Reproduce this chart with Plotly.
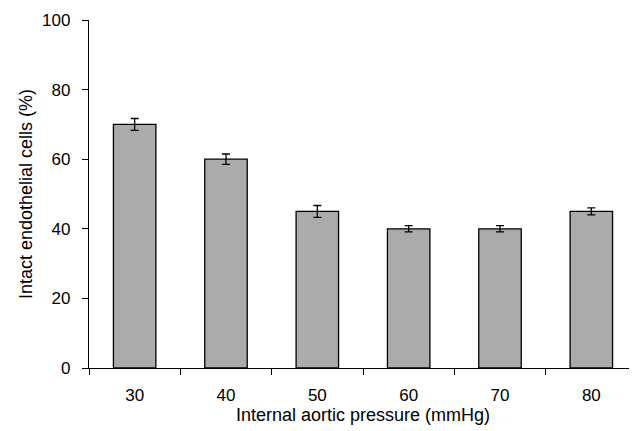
import plotly.graph_objects as go

categories = ["30", "40", "50", "60", "70", "80"]
values = [70, 60, 45, 40, 40, 45]
errors = [1.7, 1.5, 1.7, 0.9, 0.9, 1.0]
y_ticks = [0, 20, 40, 60, 80, 100]

fig = go.Figure(go.Bar(
    x=categories, y=values,
    marker=dict(color="#ababab", line=dict(color="black", width=1.3)),
    width=0.465,
    error_y=dict(type="data", array=errors, color="black", thickness=1.3, width=4),
))

# page body has an 8px default margin; margins compensate so the plot area
# lands where the reference has it
fig.update_layout(
    width=637, height=431,
    margin=dict(l=81, r=8, t=12, b=71, autoexpand=False),
    paper_bgcolor="white", plot_bgcolor="white",
    font=dict(family="Liberation Sans, Arial, sans-serif", size=17, color="black"),
    showlegend=False,
    xaxis=dict(
        title=dict(text="Internal aortic pressure (mmHg)", standoff=0, font=dict(size=18)),
        showline=True, linecolor="black", linewidth=1.3,
        ticks="outside", tickson="boundaries", ticklen=6, tickcolor="black", tickwidth=1.3,
        ticklabelstandoff=11, automargin=False,
        showgrid=False, zeroline=False,
    ),
    yaxis=dict(
        title=dict(text="Intact endothelial cells (%)", standoff=4, font=dict(size=18)),
        range=[0, 100], tickvals=y_ticks,
        showline=True, linecolor="black", linewidth=1.3,
        ticks="outside", ticklen=6, tickcolor="black", tickwidth=1.3,
        ticklabelstandoff=8, automargin=False,
        showgrid=False, zeroline=False,
    ),
)

fig.write_html("out.html")
